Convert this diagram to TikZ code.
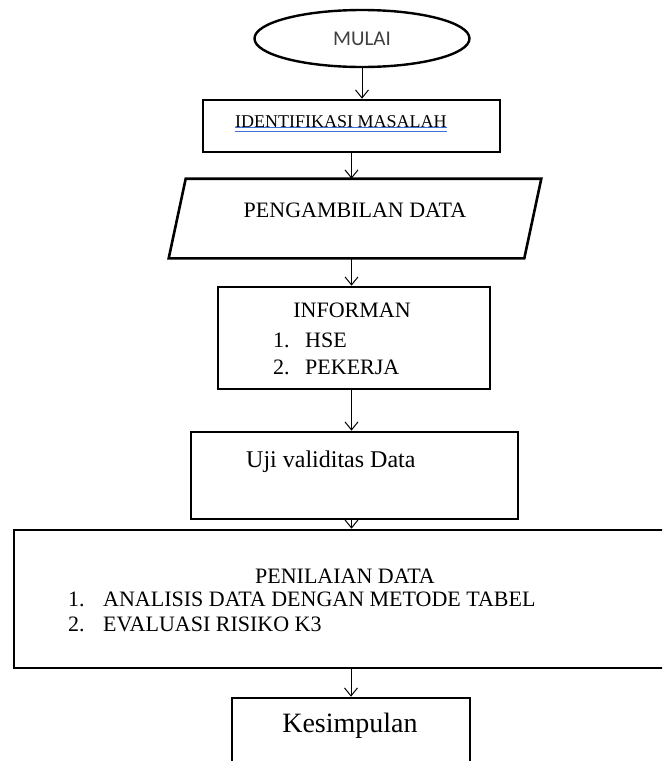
\documentclass[tikz,border=0pt]{standalone}
\usepackage{fontspec}
\setmainfont{Liberation Serif}
\newfontfamily\carlito{Carlito}
\usepackage{tikz}
\usetikzlibrary{arrows.meta,shapes.geometric}
\definecolor{spellblue}{RGB}{60,110,220}

\begin{document}
\begin{tikzpicture}[x=1pt, y=-1pt, >={Straight Barb[length=8pt,width=13pt]},
    box/.style={draw, line width=2.6pt, inner sep=0pt},
    flow/.style={->, line width=1pt},
    txt/.style={inner sep=0pt, font=\fontsize{22}{24}\selectfont}]

    %% Background
    \useasboundingbox (0,0) rectangle (662,761);
    \clip (0,0) rectangle (662,761);

    % Start
    \node[ellipse, draw, line width=2.4pt, minimum width=215, minimum height=57,
          text=black!75, font=\carlito\fontsize{21}{24}\selectfont] (mulai) at (362,38.5) {MULAI};

    % Boxes
    \node[box, minimum width=297, minimum height=52] (identifikasi) at (351.5,126) {};
    \node[inner sep=0pt, outer sep=1.3pt, minimum width=370, minimum height=77] (ambil) at (355,218.5) {};
    \draw[line width=2.6pt]
    ([xshift=17pt]ambil.north west) -- (ambil.north east) --
    ([xshift=-17pt]ambil.south east) -- (ambil.south west) -- cycle
    ;
    \node[box, minimum width=272, minimum height=102] (informan) at (354,338) {};
    \node[box, minimum width=327, minimum height=87] (uji) at (354.5,475.5) {};
    \node[box, minimum width=676, minimum height=138] (nilai) at (352,599) {};
    \node[box, minimum width=238, minimum height=100] (kesimpulan) at (351,748) {};

    % Texts
    \node[txt, anchor=base west, font=\fontsize{18}{20}\selectfont] (identitxt) at (235,127) {IDENTIFIKASI MASALAH};
    \draw[spellblue, line width=1pt]
    ([yshift=-0.6pt]identitxt.base west) -- ([yshift=-0.6pt]identitxt.base east)
    ([yshift=-4pt]identitxt.base west) -- ([yshift=-4pt]identitxt.base east)
    ;
    \node[txt] (ambiltxt) at (355,210) {PENGAMBILAN DATA};

    \node[txt] (informantxt) at (352,310) {INFORMAN};
    \node[txt, anchor=west] (no1) at (273,340) {1.};
    \node[txt, anchor=west] (hse) at (305,340) {HSE};
    \node[txt, anchor=west] (no2) at (273,367) {2.};
    \node[txt, anchor=west] (pekerja) at (305,367) {PEKERJA};

    \node[txt, anchor=west, font=\fontsize{24}{26}\selectfont] (ujitxt) at (246,462) {Uji validitas Data};

    \node[txt] (nilaitxt) at (345,576) {PENILAIAN DATA};
    \node[txt, anchor=west] (no3) at (68,599) {1.};
    \node[txt, anchor=west] (analisis) at (103,599) {ANALISIS DATA DENGAN METODE TABEL};
    \node[txt, anchor=west] (no4) at (68,624) {2.};
    \node[txt, anchor=west] (evaluasi) at (103,624) {EVALUASI RISIKO K3};

    \node[txt, font=\fontsize{28}{30}\selectfont] (kesimpulantxt) at (350,726) {Kesimpulan};

    % Arrows
    \draw[flow] (mulai.south) -- (mulai.south |- identifikasi.north);
    \draw[flow] (identifikasi.south) -- (identifikasi.south |- ambil.north);
    \draw[flow] (identifikasi.south |- ambil.south) -- (identifikasi.south |- informan.north);
    \draw[flow] (identifikasi.south |- informan.south) -- (identifikasi.south |- uji.north);
    \draw[flow] (identifikasi.south |- uji.south) -- (identifikasi.south |- nilai.north);
    \draw[flow] (kesimpulan.north |- nilai.south) -- (kesimpulan.north);

\end{tikzpicture}
\end{document}
